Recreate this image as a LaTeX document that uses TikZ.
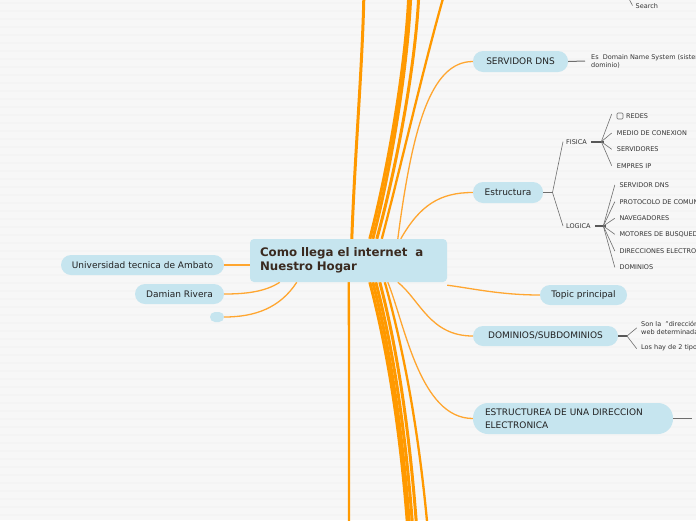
\documentclass[tikz,border=0pt]{standalone}
\usepackage{fontspec}
\setmainfont{DejaVu Sans}
\pgfdeclarelayer{bgfill}
\pgfdeclarelayer{background}
\pgfsetlayers{bgfill,background,main}
\definecolor{bgc}{HTML}{F7F7F7}
\definecolor{stripe}{HTML}{F4F4F4}
\definecolor{nodeblue}{HTML}{C6E5EF}
\definecolor{orng}{HTML}{FF9900}
\definecolor{orngl}{HTML}{FFA630}
\definecolor{txt}{HTML}{222222}
\definecolor{ctxt}{HTML}{3A2A20}
\definecolor{subtxt}{HTML}{333333}
\definecolor{gline}{HTML}{6E6E6E}
\tikzset{
  pill/.style={fill=nodeblue, rounded corners=10pt, inner sep=0pt, text=txt,
    font=\fontsize{9}{11}\selectfont},
  central/.style={fill=nodeblue, rounded corners=4pt, inner xsep=10pt, inner ysep=0pt,
    text=ctxt, font=\fontsize{11.8}{14}\selectfont\bfseries, align=left,
    text width=177pt, minimum width=197pt, minimum height=43pt},
  subtext/.style={anchor=west, inner sep=0pt, text=subtxt, font=\fontsize{6.5}{8}\selectfont, align=left},
  bigline/.style={draw=orng, line width=3pt},
  midline/.style={draw=orng, line width=2.3pt},
  thinline/.style={draw=orngl, line width=1.3pt},
  gl/.style={draw=gline, line width=0.6pt},
  gk/.style={draw=gline!80!black, line width=1.6pt},
  gm/.style={draw=gline, line width=1pt},
}
\begin{document}
\begin{tikzpicture}[x=1pt,y=-1pt]
\useasboundingbox (0,0) rectangle (696,520);
\begin{pgfonlayer}{bgfill}
\fill[bgc] (0,0) rectangle (696,520);
\foreach \k in {0,...,64}
  \fill[stripe] (0,\k*8+2) rectangle (696,\k*8+3.5);
\end{pgfonlayer}
\clip (0,0) rectangle (696,520);

% main nodes
\node[central] (c) at (348.5,260.5) {Como llega el internet\ \ a\\Nuestro Hogar};
\node[pill, minimum width=163pt, minimum height=20pt] (u) at (142.5,265) {Universidad tecnica de Ambato};
\node[pill, minimum width=89pt, minimum height=20pt] (d) at (179.5,294) {Damian Rivera};
\node[pill, rounded corners=5pt, minimum width=14pt, minimum height=10pt] (e) at (217,317) {};
\node[pill, minimum width=95pt, minimum height=21pt] (dns) at (520.5,61.5) {SERVIDOR DNS};
\node[pill, minimum width=70pt, minimum height=21pt] (est) at (508,192.5) {Estructura};
\node[pill, minimum width=87pt, minimum height=20pt] (top) at (583.5,295) {Topic principal};
\node[pill, minimum width=145pt, minimum height=20pt] (dom) at (545.5,336) {DOMINIOS/SUBDOMINIOS};
\node[pill, rounded corners=15pt, inner xsep=12pt, text width=176pt, align=left,
  minimum width=200pt, minimum height=31pt, font=\fontsize{9}{13}\selectfont] (edir) at (573,418.5)
  {ESTRUCTUREA DE UNA DIRECCION\\ELECTRONICA};

% off-canvas ends
\coordinate (t1) at (364,-12);
\coordinate (t2) at (409,-12);
\coordinate (t3) at (411,-12);
\coordinate (t4) at (419,-12);
\coordinate (t5) at (446,-12);
\coordinate (b1) at (349,532);
\coordinate (b2) at (408,532);
\coordinate (b3) at (410,532);
\coordinate (b4) at (413,532);
\coordinate (b5) at (417,532);
\coordinate (b6) at (428,532);

\begin{pgfonlayer}{background}
% thick lines leaving the picture
\draw[bigline] ([xshift=102pt]c.north west) .. controls (355,150) and (363,60) .. (t1);
\draw[bigline] ([xshift=120pt]c.north west) .. controls (388,170) and (407,60) .. (t2);
\draw[bigline] ([xshift=123pt]c.north west) .. controls (391,170) and (409,60) .. (t3);
\draw[bigline] ([xshift=127pt]c.north west) .. controls (396,170) and (417,60) .. (t4);
\draw[midline] ([xshift=132pt]c.north west) .. controls (400,170) and (425,60) .. (t5);
\draw[midline] ([xshift=99pt]c.south west) .. controls (349,350) and (349,450) .. (b1);
\draw[bigline] ([xshift=120pt]c.south west) .. controls (385,340) and (400,420) .. (b2);
\draw[bigline] ([xshift=123pt]c.south west) .. controls (388,340) and (402,420) .. (b3);
\draw[bigline] ([xshift=126pt]c.south west) .. controls (391,340) and (405,420) .. (b4);
\draw[bigline] ([xshift=130pt]c.south west) .. controls (395,340) and (409,420) .. (b5);
\draw[midline] ([xshift=135pt]c.south west) .. controls (401,340) and (418,420) .. (b6);
% connectors to the nodes
\draw[thinline] (u.east) -- (u.east -| c.west);
\draw[thinline] ([xshift=30pt]c.south west) .. controls (265,292) and (245,294) .. (d.east);
\draw[thinline] ([xshift=47pt]c.south west) .. controls (280,308) and (255,317) .. (e.east);
\draw[thinline] ([xshift=148pt]c.north west) .. controls (412,130) and (430,61.5) .. (dns.west);
\draw[thinline] ([xshift=151pt]c.north west) .. controls (420,205) and (440,192.5) .. (est.west);
\draw[thinline] ([yshift=-3pt]c.south east) .. controls (470,288) and (500,295) .. (top.west);
\draw[thinline] ([xshift=148pt]c.south west) .. controls (420,300) and (430,336) .. (dom.west);
\draw[thinline] ([xshift=138pt]c.south west) .. controls (405,325) and (420,418.5) .. (edir.west);
\end{pgfonlayer}

% Search (top right)
\node[subtext] (search) at (635.5,6.5) {Search};
\coordinate (sj) at (628,-3);
\draw[gl] (sj) -- ([xshift=-3pt,yshift=1pt]search.west);

% SERVIDOR DNS description
\node[subtext] (dnsd) at (591,61) {Es\ \ Domain Name System (sistema de nombres de\\dominio)};
\draw[gm] (dns.east) -- ([xshift=-6pt]dnsd.west);

% Estructura tree
\coordinate (ej) at (552.5,192.5);
\node[subtext] (fis) at (566,141.7) {FISICA};
\node[subtext] (log) at (566,226) {LOGICA};
\draw[gm] (est.east) -- (ej);
\draw[gl] (ej) -- ([xshift=-3pt]fis.west);
\draw[gl] (ej) -- ([xshift=-3pt]log.west);
\coordinate (fj) at (604.3,141.7);
\coordinate (lj) at (606.3,226);
\draw[gk] ([xshift=4pt]fis.east) -- (fj);
\draw[gk] ([xshift=4pt]log.east) -- (lj);

\node[draw=gline, line width=0.6pt, rounded corners=1pt, inner sep=0pt, minimum size=6pt] (cb) at (620,116) {};
\node[subtext] (f1) at (626,116) {REDES};
\node[subtext] (f2) at (616.7,133) {MEDIO DE CONEXION};
\node[subtext] (f3) at (616.7,149.3) {SERVIDORES};
\node[subtext] (f4) at (616.7,165.7) {EMPRES IP};
\draw[gl] ([xshift=-3pt]fj) -- ([xshift=-5pt,yshift=2pt]cb.west);
\draw[gl] ([xshift=-3pt]fj) -- ([xshift=-5pt]f2.west);
\draw[gl] ([xshift=-3pt]fj) -- ([xshift=-5pt]f3.west);
\draw[gl] ([xshift=-3pt]fj) -- ([xshift=-5pt]f4.west);

\node[subtext] (l1) at (619.3,185) {SERVIDOR DNS};
\node[subtext] (l2) at (619.3,201.7) {PROTOCOLO DE COMUNICACION};
\node[subtext] (l3) at (619.3,218.3) {NAVEGADORES};
\node[subtext] (l4) at (619.3,234.3) {MOTORES DE BUSQUEDA};
\node[subtext] (l5) at (619.3,251) {DIRECCIONES ELECTRONICAS};
\node[subtext] (l6) at (619.3,267.3) {DOMINIOS};
\foreach \n in {l1,l2,l3,l4,l5,l6}
  \draw[gl] ([xshift=-3pt]lj) -- ([xshift=-4.5pt]\n.west);

% DOMINIOS/SUBDOMINIOS children
\coordinate (dj) at (627,336);
\draw[gk] (dom.east) -- (dj);
\node[subtext] (dm1) at (641,327.6) {Son la\ \ "dirección" de una página\\web determinada.};
\node[subtext] (dm2) at (641,347.7) {Los hay de 2 tipos:};
\draw[gl] (dj) -- ([xshift=-4.3pt,yshift=-0.3pt]dm1.west);
\draw[gl] (dj) -- ([xshift=-4.3pt,yshift=-1pt]dm2.west);

% ESTRUCTUREA free end
\coordinate (ed) at (692,418.5);
\draw[gm] (edir.east) -- (ed);
\end{tikzpicture}
\end{document}
